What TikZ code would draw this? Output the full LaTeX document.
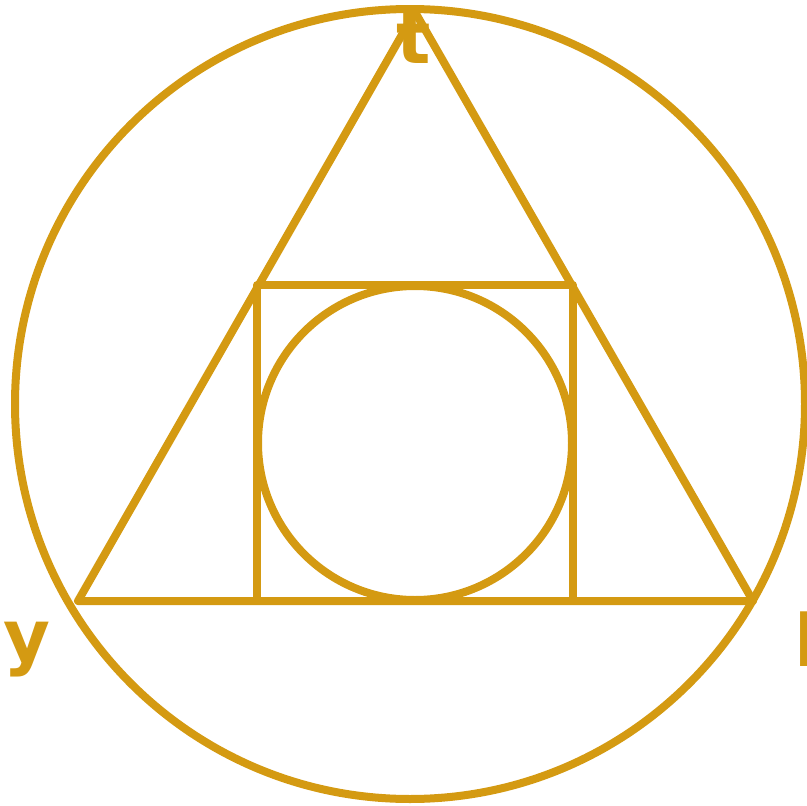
\documentclass[tikz,border=0pt]{standalone}
\usepackage{fontspec}
\setmainfont{DejaVu Sans}
\definecolor{gold}{RGB}{212,154,18}
\begin{document}
\begin{tikzpicture}[x=1pt,y=-1pt,
  geo/.style={draw=gold,line width=8pt,line join=round},
  lbl/.style={text=gold,font=\fontsize{72}{72}\selectfont\bfseries,inner sep=0pt,anchor=base west}]
\useasboundingbox (0,0) rectangle (807,806);
\coordinate (O) at (410,404);
\coordinate (A) at (415,12);
\coordinate (B) at (78,601);
\coordinate (C) at (753,601);
\coordinate (I) at (415,443);
\draw[geo] (O) circle (395);
\draw[geo] (A) -- (B) -- (C) -- cycle;
\draw[geo] (257,285) rectangle (573,601);
\draw[geo] (I) circle (157);
\node[lbl] (t) at (396,63) {t};
\node[lbl] (y) at (3,661) {y};
\node[lbl] (l) at (794,666) {l};
\end{tikzpicture}
\end{document}
